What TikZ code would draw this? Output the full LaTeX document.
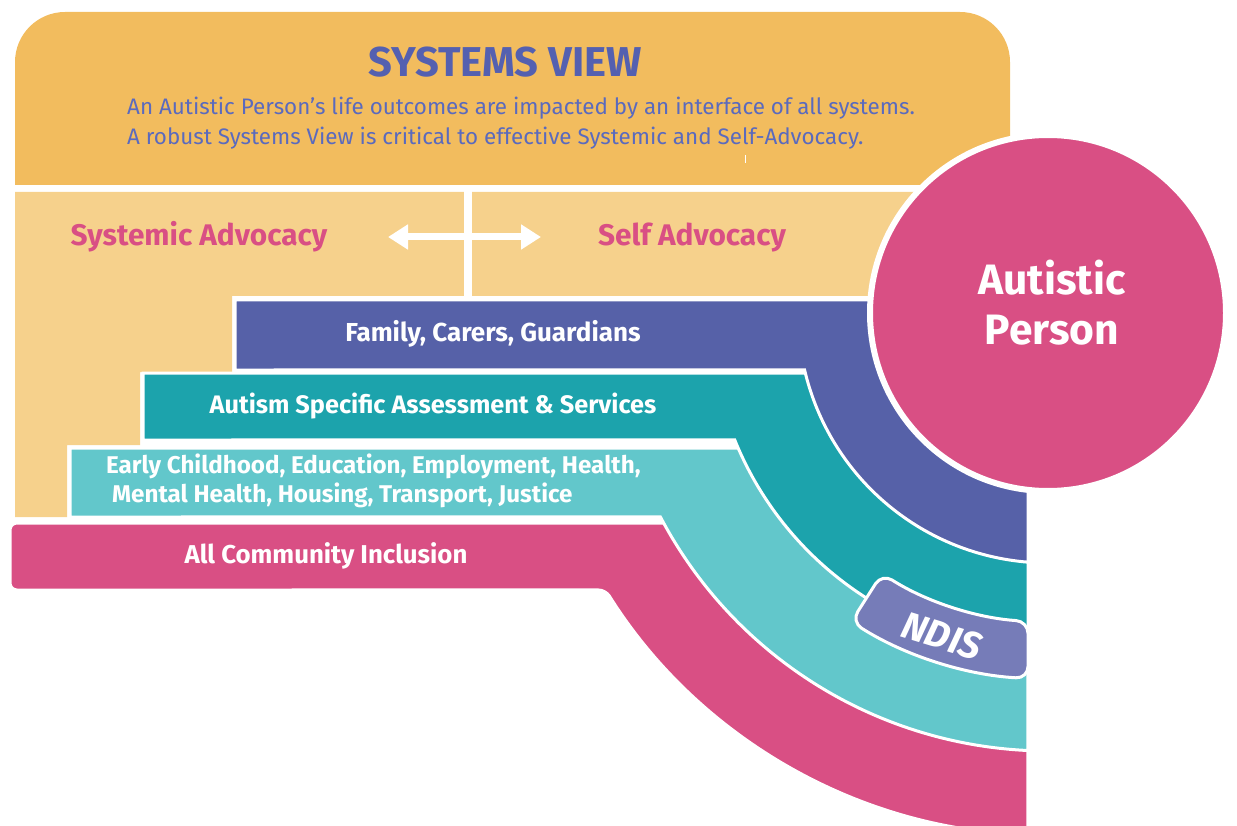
\documentclass[tikz,border=0pt]{standalone}
\usepackage{fontspec}
\setmainfont{Fira Sans}
\usetikzlibrary{positioning,calc,arrows.meta}
\definecolor{viewgold}{RGB}{242,188,94}
\definecolor{advocacysand}{RGB}{246,209,140}
\definecolor{familyblue}{RGB}{86,97,168}
\definecolor{autismteal}{RGB}{28,163,172}
\definecolor{servicesaqua}{RGB}{98,199,203}
\definecolor{inclusionpink}{RGB}{217,79,132}
\definecolor{ndislilac}{RGB}{118,124,184}
\definecolor{titleblue}{RGB}{84,96,176}
\definecolor{introblue}{RGB}{90,106,190}

\begin{document}
\begin{tikzpicture}[x=1pt,y=-1pt,
    band/.style={draw=white, line width=3pt},
    bandlabel/.style={text=white, font=\bfseries\fontsize{26}{29}\selectfont, inner sep=0pt},
    advlabel/.style={text=inclusionpink, font=\bfseries\fontsize{29.8}{33}\selectfont, inner sep=0pt}]
\useasboundingbox (0,0) rectangle (1237,826);
\clip (0,0) rectangle (1237,826);
\coordinate (hub) at (1048,313);

\fill[advocacysand] (15,192) -- (1003,192) -- (1003,296) -- (232,296) -- (232,372) -- (140,372) -- (140,445) -- (67,445) -- (67,517) -- (15,517) -- cycle;
\fill[viewgold] (15,185) -- (15,62) arc[start angle=180, end angle=270, radius=50] -- (960,12) arc[start angle=270, end angle=360, radius=50] -- (1010,185) -- cycle;
\draw[white, line width=1pt] (745,155) -- (745,163);

\draw[white, line width=8pt] (468,188) -- (468,298);
\coordinate (arrL) at (388,237);
\coordinate (arrR) at (541,237);
\draw[white, line width=7pt, {Triangle[length=20pt,width=24pt]}-{Triangle[length=20pt,width=24pt]}] (arrL) -- (arrR);

\draw[band, fill=inclusionpink, rounded corners=7pt] (10,523) -- (1028,523) -- ($(hub)+(92.2:522)$) arc[start angle=92.2, end angle=147.95, radius=522] -- (10,590) -- cycle;
\draw[band, fill=servicesaqua] (70,448) -- (1028,448) -- ($(hub)+(92.62:438)$) arc[start angle=92.62, end angle=152.24, radius=438] -- (70,517) -- cycle;
\draw[band, fill=autismteal] (143,373) -- (1028,373) -- ($(hub)+(93.39:338)$) arc[start angle=93.39, end angle=157.93, radius=338] -- (143,440) -- cycle;
\draw[band, fill=ndislilac, rounded corners=12pt] ($(hub)+(93.71:309)$) arc[start angle=93.71, end angle=122.5, radius=309] -- ($(hub)+(122.5:366)$) arc[start angle=122.5, end angle=93.13, radius=366] -- cycle;
\draw[band, fill=familyblue] (235,300) -- (1028,300) -- ($(hub)+(94.59:250)$) arc[start angle=94.59, end angle=166.82, radius=250] -- (235,370) -- cycle;

\node[circle, fill=inclusionpink, draw=white, line width=6pt, minimum size=356pt, inner sep=0pt] (person) at (hub) {};
\node[text=white, font=\bfseries\fontsize{42.5}{50}\selectfont, align=center, inner sep=0pt] (personlabel) at (1052,303) {Autistic\\Person};

\node[text=titleblue, font=\bfseries\fontsize{41.7}{48}\selectfont, inner sep=0pt] (title) at (505,62) {SYSTEMS VIEW};
\node[text=introblue, font=\fontsize{22.4}{30}\selectfont, align=left, anchor=west, inner sep=0pt] (intro) at (127,123) {An Autistic Person’s life outcomes are impacted by an interface of all systems.\\A robust Systems View is critical to effective Systemic and Self-Advocacy.};

\node[advlabel] (systemic) at (199,237) {Systemic Advocacy};
\node[advlabel] (self) at (692,237) {Self Advocacy};

\node[bandlabel] (family) at (493,334) {Family, Carers, Guardians};
\node[bandlabel, font=\bfseries\fontsize{25.3}{29}\selectfont] (autism) at (433,406) {Autism Specific Assessment \& Services};
\node[bandlabel, font=\bfseries\fontsize{24.2}{29}\selectfont, align=left, anchor=west] (sectors) at (106,481) {Early Childhood, Education, Employment, Health,\\\hspace{6pt}Mental Health, Housing, Transport, Justice};
\node[bandlabel, font=\bfseries\fontsize{25.8}{30}\selectfont] (community) at (326,556) {All Community Inclusion};
\node[text=white, font=\bfseries\itshape\fontsize{38}{40}\selectfont, rotate=-17, inner sep=0pt] (ndis) at (942,636) {NDIS};
\end{tikzpicture}
\end{document}
